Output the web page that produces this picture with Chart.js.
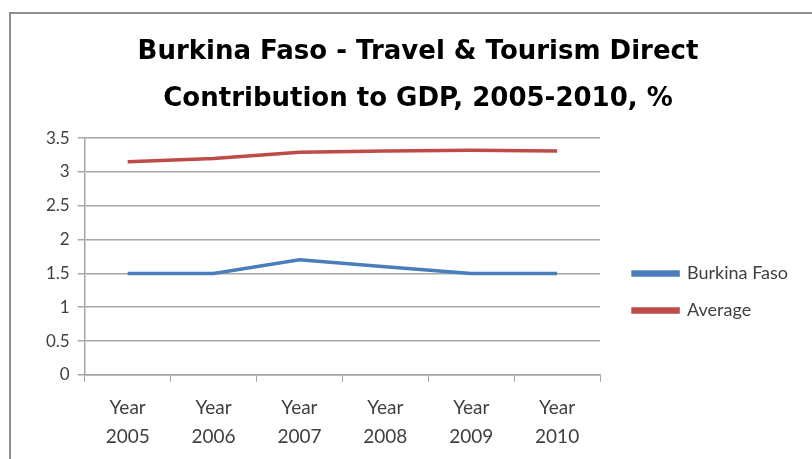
<!DOCTYPE html>
<html>
<head>
<meta charset="utf-8">
<script src="https://cdn.jsdelivr.net/npm/chart.js@4/dist/chart.umd.min.js"></script>
<style>
  html, body { margin: 0; padding: 0; background: #fff; }
  #wrap { position: relative; width: 812px; height: 459px; overflow: hidden; }
  #frame {
    position: absolute; left: 9px; top: 12px; width: 900px; height: 500px;
    border-left: 2px solid #8e8e8e; border-top: 2px solid #8e8e8e;
  }
  #chart { position: absolute; left: 0; top: 0; }
</style>
</head>
<body>
<div id="wrap">
  <div id="frame"></div>
  <canvas id="chart" width="812" height="459"></canvas>
</div>
<script>
'use strict'

// === DATA ===
const years = ['2005', '2006', '2007', '2008', '2009', '2010']
const burkinaFaso = [1.5, 1.5, 1.7, 1.6, 1.5, 1.5]
const average = [3.15, 3.2, 3.29, 3.31, 3.32, 3.31]
const yTicks = [0, 0.5, 1, 1.5, 2, 2.5, 3, 3.5]

const labels = years.map(y => ['Year', y])
const textColor = '#404040'
const gridColor = '#a6a6a6'

Chart.defaults.font.family = 'Lato, "Open Sans", sans-serif'
Chart.defaults.color = textColor

// nudges the legend block down so it sits beside the lower half of the plot
const legendOffset = {
  id: 'legendOffset',
  afterLayout(chart, args, opts) {
    chart.legend.top += opts.dy
    chart.legend.bottom += opts.dy
  }
}

let ctx = document.getElementById('chart')
let myChart = new Chart(ctx, {
  type: 'line',
  plugins: [legendOffset],
  data: {
    labels: labels,
    datasets: [{
      label: 'Burkina Faso',
      data: burkinaFaso,
      borderColor: '#4a7ebb',
      backgroundColor: '#4a7ebb',
      borderWidth: 3.5,
      pointRadius: 0,
      tension: 0
    }, {
      label: 'Average',
      data: average,
      borderColor: '#be4b48',
      backgroundColor: '#be4b48',
      borderWidth: 3.5,
      pointRadius: 0,
      tension: 0
    }]
  },
  options: {
    responsive: false,
    animation: false,
    layout: { padding: { left: 38, top: 0, right: 14, bottom: -3 } },
    plugins: {
      title: {
        display: true,
        text: ['Burkina Faso - Travel & Tourism Direct', 'Contribution to GDP, 2005-2010, %'],
        color: '#000',
        font: { family: '"DejaVu Sans", sans-serif', size: 26, weight: 'bold', lineHeight: 1.81 },
        padding: { top: 29, bottom: 15 }
      },
      legend: {
        position: 'right',
        maxWidth: 220,
        labels: {
          boxWidth: 45,
          boxHeight: 3,
          padding: 19,
          color: textColor,
          font: { size: 18 }
        }
      },
      legendOffset: { dy: 61 },
      tooltip: { enabled: false }
    },
    scales: {
      x: {
        offset: true,
        grid: {
          offset: true,
          drawOnChartArea: false,
          color: gridColor,
          tickLength: 7
        },
        border: { color: gridColor, width: 1.5 },
        ticks: {
          color: textColor,
          font: { size: 19, lineHeight: 1.53 },
          padding: 11,
          maxRotation: 0
        }
      },
      y: {
        min: 0,
        max: 3.5,
        afterBuildTicks: scale => { scale.ticks = yTicks.map(v => ({ value: v })) },
        grid: { color: gridColor, lineWidth: 1.5, tickLength: 7 },
        border: { color: gridColor, width: 1.5 },
        ticks: {
          color: textColor,
          font: { size: 17 },
          padding: 8,
          callback: v => String(v)
        }
      },
      // empty spacer axis keeps the legend clear of the plot
      gap: {
        position: 'right',
        display: true,
        grid: { display: false },
        border: { display: false },
        ticks: { display: false },
        afterFit: scale => { scale.width = 14 }
      }
    }
  }
})
</script>
</body>
</html>
